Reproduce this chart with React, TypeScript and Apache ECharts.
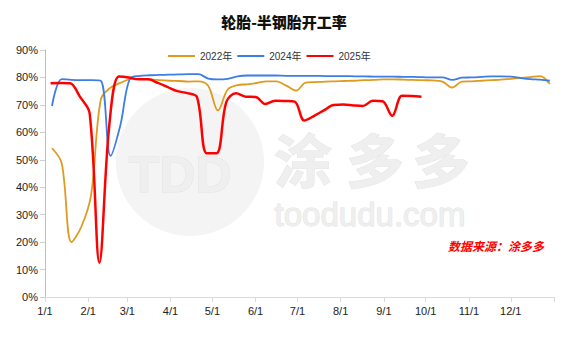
import React, { useEffect, useRef } from "react";
import * as echarts from "echarts";

// ---- data ----
const monthStarts = [0, 31, 59, 90, 120, 151, 181, 212, 243, 273, 304, 334];
const monthLabels = ["1/1", "2/1", "3/1", "4/1", "5/1", "6/1", "7/1", "8/1", "9/1", "10/1", "11/1", "12/1"];
const yTicks = [0, 10, 20, 30, 40, 50, 60, 70, 80, 90];

const dates2022 = [
  "1/6", "1/13", "1/20", "1/27", "2/3", "2/10", "2/17", "2/24", "3/3", "3/10", "3/17", "3/24", "3/31",
  "4/7", "4/14", "4/21", "4/28", "5/5", "5/12", "5/19", "5/26", "6/2", "6/9", "6/16", "6/23", "6/30",
  "7/7", "7/14", "7/21", "7/28", "8/4", "8/11", "8/18", "8/25", "9/1", "9/8", "9/15", "9/22", "9/29",
  "10/6", "10/13", "10/20", "10/27", "11/3", "11/10", "11/17", "11/24", "12/1", "12/8", "12/15", "12/22", "12/29",
];
const values2022 = [
  54.2, 48.7, 20.0, 25.5, 37.0, 72.0, 76.3, 78.0, 79.4, 79.6, 79.3, 79.0, 78.8,
  78.7, 78.5, 78.6, 77.0, 68.0, 75.6, 77.2, 77.5, 78.0, 78.6, 78.6, 77.0, 75.2,
  78.1, 78.3, 78.5, 78.6, 78.7, 78.8, 79.0, 79.1, 79.3, 79.3, 79.2, 79.1, 79.0,
  78.9, 78.5, 76.3, 78.5, 78.6, 78.8, 79.0, 79.2, 79.5, 79.8, 80.1, 80.5, 77.6,
];

const dates2024 = dates2022;
const values2024 = [
  69.6, 79.4, 79.1, 79.0, 79.0, 78.8, 51.4, 62.5, 79.7, 80.6, 80.8, 80.9, 81.0,
  81.1, 81.2, 81.2, 79.6, 79.3, 79.5, 80.4, 80.7, 80.7, 80.7, 80.7, 80.6, 80.6,
  80.6, 80.6, 80.5, 80.5, 80.5, 80.4, 80.4, 80.3, 80.3, 80.3, 80.2, 80.2, 80.1,
  80.0, 80.0, 79.1, 79.9, 80.0, 80.2, 80.4, 80.4, 80.3, 79.8, 79.4, 79.2, 78.8,
];

const dates2025 = [
  "1/5", "1/12", "1/19", "1/26", "2/2", "2/9", "2/16", "2/23", "3/2", "3/9", "3/16", "3/23", "3/30",
  "4/6", "4/13", "4/20", "4/27", "5/4", "5/11", "5/18", "5/25", "6/1", "6/8", "6/15", "6/22", "6/29",
  "7/6", "7/13", "7/20", "7/27", "8/3", "8/10", "8/17", "8/24", "8/31", "9/7", "9/14", "9/21", "9/28",
];
const values2025 = [
  77.9, 78.0, 77.9, 73.0, 67.0, 12.5, 62.0, 80.3, 80.0, 79.3, 79.3, 78.0, 76.5,
  75.0, 74.3, 72.8, 52.4, 52.4, 71.0, 74.2, 73.0, 72.9, 70.3, 71.5, 71.4, 71.2,
  64.3, 66.0, 68.0, 70.0, 70.1, 69.8, 69.6, 71.5, 71.3, 66.0, 73.3, 73.2, 73.0,
];

const seriesNames = ["2022年", "2024年", "2025年"];
const seriesColors = ["#DE9B1F", "#3C7DE6", "#FF0000"];

// ---- helpers ----
const dayIndex = (md: string) => {
  const [m, d] = md.split("/").map(Number);
  return monthStarts[m - 1] + d - 1;
};
const categories = Array.from({ length: 366 }, (_, i) => String(i));
const toPairs = (dates: string[], vals: number[]) => dates.map((d, i) => [dayIndex(d), vals[i]]);

const FONT = '"Liberation Sans", Arial, "Noto Sans CJK SC", sans-serif';
const CJK = '"Noto Sans CJK SC", sans-serif';

export default function App() {
  const ref = useRef<HTMLDivElement>(null);
  useEffect(() => {
    if (!ref.current) return;
    const chart = echarts.init(ref.current, null, { renderer: "svg" });
    const allData = [toPairs(dates2022, values2022), toPairs(dates2024, values2024), toPairs(dates2025, values2025)];
    const wm = (text: string, x: number, y: number, size: number, fam: string, bold = true) => ({
      type: "text", z: 0, x, y,
      style: {
        text, fontFamily: fam, fontSize: size, fontWeight: bold ? "bold" : "normal",
        fill: "#efefef", stroke: "#e3e3e3", lineWidth: 1,
        align: "center", verticalAlign: "middle",
      },
    });
    chart.setOption({
      animation: false,
      backgroundColor: "#ffffff",
      title: {
        text: "轮胎-半钢胎开工率",
        left: "center",
        top: 9,
        textStyle: { fontFamily: CJK, fontSize: 15, fontWeight: 900, color: "#111" },
      },
      legend: {
        data: seriesNames,
        left: 163,
        top: 46,
        icon: "rect",
        itemWidth: 27,
        itemHeight: 2,
        itemGap: 5,
        textStyle: { fontFamily: FONT, fontSize: 10, color: "#333" },
      },
      grid: { left: 45, right: 14, top: 50, bottom: 44 },
      graphic: [
        { type: "circle", z: 0, shape: { cx: 190, cy: 162, r: 74 }, style: { fill: "#f4f4f4" } },
        wm("TDD", 180, 175, 50, FONT),
        wm("涂", 303, 158, 58, CJK),
        wm("多", 375, 158, 58, CJK),
        wm("多", 441, 158, 58, CJK),
        wm("toodudu.com", 370, 214, 33, FONT, false),
        {
          type: "text", z: 10, x: 448, y: 245,
          style: { text: "数据来源：涂多多", fontFamily: CJK, fontSize: 12, fontWeight: "bold", fontStyle: "italic", fill: "#FF0000", align: "left", verticalAlign: "middle" },
        },
      ],
      xAxis: {
        type: "category",
        data: categories,
        boundaryGap: false,
        axisLine: { lineStyle: { color: "#d9d9d9", width: 1 } },
        axisTick: {
          length: 5,
          lineStyle: { color: "#d9d9d9" },
          interval: (i: number) => monthStarts.includes(i) || i === 365,
        },
        axisLabel: {
          interval: (i: number) => monthStarts.includes(i),
          formatter: (v: string) => {
            const k = monthStarts.indexOf(Number(v));
            return k >= 0 ? monthLabels[k] : "";
          },
          fontFamily: FONT,
          fontSize: 11,
          color: "#222",
          margin: 8,
        },
        splitLine: { show: false },
      },
      yAxis: {
        type: "value",
        min: yTicks[0],
        max: yTicks[yTicks.length - 1],
        interval: 10,
        axisLine: { show: true, lineStyle: { color: "#bfbfbf" } },
        axisTick: { show: true, length: 5, lineStyle: { color: "#d0d0d0" } },
        axisLabel: { formatter: "{value}%", fontFamily: FONT, fontSize: 11, color: "#222", margin: 7 },
        splitLine: { show: false },
      },
      series: seriesNames.map((name, i) => ({
        name,
        type: "line",
        data: allData[i],
        smooth: 0.35,
        showSymbol: false,
        symbol: "none",
        z: 5 + i,
        color: seriesColors[i],
        lineStyle: { color: seriesColors[i], width: i === 2 ? 2.5 : 1.8 },
      })),
    });
    return () => chart.dispose();
  }, []);
  return <div ref={ref} style={{ position: "fixed", left: 0, top: 0, width: 568, height: 341 }} />;
}
